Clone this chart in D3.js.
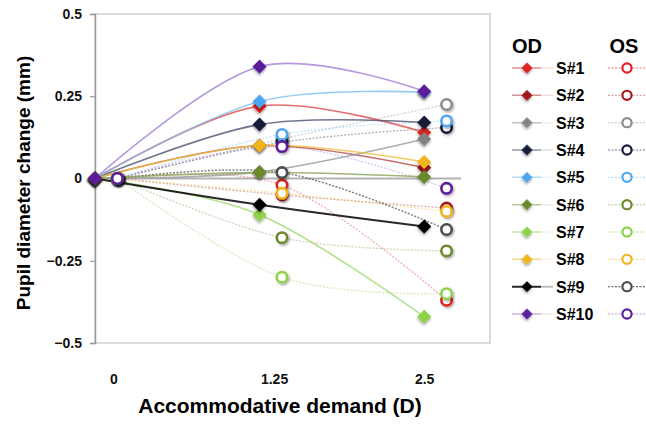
<!DOCTYPE html>
<meta charset="utf-8">
<script src="https://d3js.org/d3.v7.min.js"></script>
<body style="margin:0;background:#fff">
<div id="chart"></div>
</body>
<script>
    // accommodative demand levels (D); OS points are drawn slightly right of OD
    const demand = [0, 1.25, 2.5];
    const osShift = 0.17;
    const subjects = ["S#1", "S#2", "S#3", "S#4", "S#5", "S#6", "S#7", "S#8", "S#9", "S#10"];

    // pupil diameter change (mm), one row per subject, at 0 / 1.25 / 2.5 D
    const odValues = [
        [0, 0.22, 0.14],
        [0, 0.10, 0.033],
        [0, 0.02, 0.12],
        [0, 0.164, 0.17],
        [0, 0.234, 0.262],
        [0, 0.018, 0.005],
        [0, -0.11, -0.42],
        [0, 0.10, 0.05],
        [0, -0.08, -0.146],
        [0, 0.34, 0.265]
    ];
    const osValues = [
        [0, -0.02, -0.37],
        [0, -0.05, -0.09],
        [0, 0.12, 0.225],
        [0, 0.11, 0.155],
        [0, 0.134, 0.175],
        [0, -0.18, -0.22],
        [0, -0.30, -0.35],
        [0, -0.045, -0.10],
        [0, 0.018, -0.155],
        [0, 0.097, -0.03]
    ];

    const yTicks = [-0.5, -0.25, 0, 0.25, 0.5];
    const xTickAt = [0.14, 1.36, 2.5];
    const xTickLabels = ["0", "1.25", "2.5"];

    const markColors = ["#e02222", "#a0171c", "#828282", "#141c38", "#4da6f0", "#6b8a2c", "#8ed24a", "#f0b41c", "#000000", "#5b1f9c"];
    const osColors = ["#e02222", "#a0171c", "#8c8c8c", "#141c38", "#4da6f0", "#6b8a2c", "#8ed24a", "#f0b41c", "#4d4d4d", "#5b1f9c"];
    const lineColors = ["#e04a4a", "#b84a4a", "#9a9a9a", "#4a5270", "#7cc0f4", "#8aa45a", "#9ed86a", "#f0c040", "#111111", "#a27ed6"];

    const W = 646, H = 424;
    const plot = {left: 95, right: 490, top: 14, bottom: 343};
    const font = "'Liberation Sans', Arial, sans-serif";

    const svg = d3.select("#chart").append("svg")
        .attr("width", W).attr("height", H)
        .style("font-family", font);

    const defs = svg.append("defs");
    const f = defs.append("filter").attr("id", "shadow")
        .attr("x", "-50%").attr("y", "-50%").attr("width", "200%").attr("height", "200%");
    f.append("feDropShadow").attr("dx", 1.2).attr("dy", 1.5).attr("stdDeviation", 1)
        .attr("flood-color", "#000").attr("flood-opacity", 0.35);

    const x = d3.scaleLinear().domain([0, 3]).range([plot.left, plot.right]);
    const y = d3.scaleLinear().domain([-0.5, 0.5]).range([plot.bottom, plot.top]);

    // plot frame
    svg.append("rect")
        .attr("x", plot.left).attr("y", plot.top)
        .attr("width", plot.right - plot.left).attr("height", plot.bottom - plot.top)
        .attr("fill", "none").attr("stroke", "#cfcfcf").attr("stroke-width", 1.5);

    // zero line
    svg.append("line")
        .attr("x1", x(0)).attr("x2", x(2.78))
        .attr("y1", y(0)).attr("y2", y(0))
        .attr("stroke", "#b3b3b3").attr("stroke-width", 2);

    // y axis
    const yAxis = svg.append("g")
        .attr("transform", "translate(" + plot.left + ",0)")
        .call(d3.axisLeft(y).tickValues(yTicks).tickSize(5).tickPadding(8)
            .tickFormat(d => d3.format("")(d)));
    yAxis.select(".domain").attr("stroke", "#9a9a9a").attr("stroke-width", 1.5);
    yAxis.selectAll(".tick line").attr("stroke", "#9a9a9a").attr("stroke-width", 1.2);
    yAxis.selectAll("text").style("font-size", "14px").style("font-weight", "bold")
        .style("font-family", font).attr("fill", "#111");

    // x axis labels
    const xAxis = svg.append("g")
        .attr("transform", "translate(0," + plot.bottom + ")")
        .call(d3.axisBottom(x).tickValues(xTickAt).tickSize(0).tickPadding(31)
            .tickFormat((d, i) => xTickLabels[i]));
    xAxis.select(".domain").remove();
    xAxis.selectAll("text").style("font-size", "14px").style("font-weight", "bold")
        .style("font-family", font).attr("fill", "#111");

    // titles
    svg.append("text")
        .attr("x", 280).attr("y", 413)
        .attr("text-anchor", "middle")
        .style("font-size", "21px").style("font-weight", "bold")
        .text("Accommodative demand (D)");
    svg.append("text")
        .attr("transform", "translate(30,183) rotate(-90)")
        .attr("text-anchor", "middle")
        .style("font-size", "19px").style("font-weight", "bold")
        .text("Pupil diameter change (mm)");

    const line = d3.line()
        .x(d => x(d[0])).y(d => y(d[1]))
        .curve(d3.curveCardinal.tension(0));

    const odSeries = odValues.map(v => v.map((d, i) => [demand[i], d]));
    const osSeries = osValues.map(v => v.map((d, i) => [demand[i] + osShift, d]));

    // OS lines (dotted, faint)
    svg.append("g").selectAll("path")
        .data(osSeries).enter().append("path")
        .attr("d", line)
        .attr("fill", "none")
        .attr("stroke", (d, i) => i === 8 ? osColors[i] : lineColors[i])
        .attr("stroke-width", (d, i) => i === 8 ? 1.5 : 1.3)
        .attr("stroke-dasharray", "2,1.5")
        .attr("opacity", (d, i) => i === 8 ? 0.7 : 0.45);

    // OD lines (solid)
    svg.append("g").selectAll("path")
        .data(odSeries).enter().append("path")
        .attr("d", line)
        .attr("fill", "none")
        .attr("stroke", (d, i) => lineColors[i])
        .attr("stroke-width", (d, i) => i === 8 ? 2 : 1.6)
        .attr("opacity", (d, i) => i === 8 ? 0.9 : 0.8);

    const diamond = d3.symbol().type(d3.symbolSquare).size(100);

    // OD markers
    odSeries.forEach((s, i) => {
        svg.append("g").selectAll("path")
            .data(s).enter().append("path")
            .attr("d", diamond)
            .attr("transform", d => "translate(" + x(d[0]) + "," + y(d[1]) + ") rotate(45)")
            .attr("fill", markColors[i])
            .attr("filter", "url(#shadow)");
    });

    // OS markers
    osSeries.forEach((s, i) => {
        svg.append("g").selectAll("circle")
            .data(s).enter().append("circle")
            .attr("cx", d => x(d[0])).attr("cy", d => y(d[1]))
            .attr("r", 5.2)
            .attr("fill", "#fff")
            .attr("stroke", osColors[i])
            .attr("stroke-width", 2.6)
            .attr("filter", "url(#shadow)");
    });

    // legend
    const lg = svg.append("g");
    lg.append("text").attr("x", 527).attr("y", 53).attr("text-anchor", "middle")
        .style("font-size", "20px").style("font-weight", "bold").text("OD");
    lg.append("text").attr("x", 624).attr("y", 53).attr("text-anchor", "middle")
        .style("font-size", "20px").style("font-weight", "bold").text("OS");

    const rowY = d3.scalePoint().domain(subjects).range([68, 314]);
    subjects.forEach((s, i) => {
        const ry = rowY(s);
        lg.append("line").attr("x1", 512).attr("x2", 553).attr("y1", ry).attr("y2", ry)
            .attr("stroke", lineColors[i]).attr("stroke-width", i === 8 ? 2 : 1.5)
            .attr("opacity", i === 8 ? 0.9 : 0.6);
        lg.append("path").attr("d", d3.symbol().type(d3.symbolSquare).size(60))
            .attr("transform", "translate(527," + ry + ") rotate(45)")
            .attr("fill", markColors[i]).attr("filter", "url(#shadow)");
        lg.append("rect").attr("x", 541).attr("y", ry - 3).attr("width", 13).attr("height", 6).attr("fill", "#fff")
            .attr("opacity", 0.7);
        lg.append("text").attr("x", 556).attr("y", ry + 6)
            .style("font-size", "16px").style("font-weight", "bold").text(s);
        lg.append("line").attr("x1", 608).attr("x2", 646).attr("y1", ry).attr("y2", ry)
            .attr("stroke", i === 8 ? osColors[i] : lineColors[i]).attr("stroke-width", 1.3)
            .attr("stroke-dasharray", "2,1.5").attr("opacity", i === 8 ? 0.8 : 0.5);
        lg.append("circle").attr("cx", 627).attr("cy", ry).attr("r", 4.6)
            .attr("fill", "#fff").attr("stroke", osColors[i]).attr("stroke-width", 2.2);
    });
</script>
</html>
